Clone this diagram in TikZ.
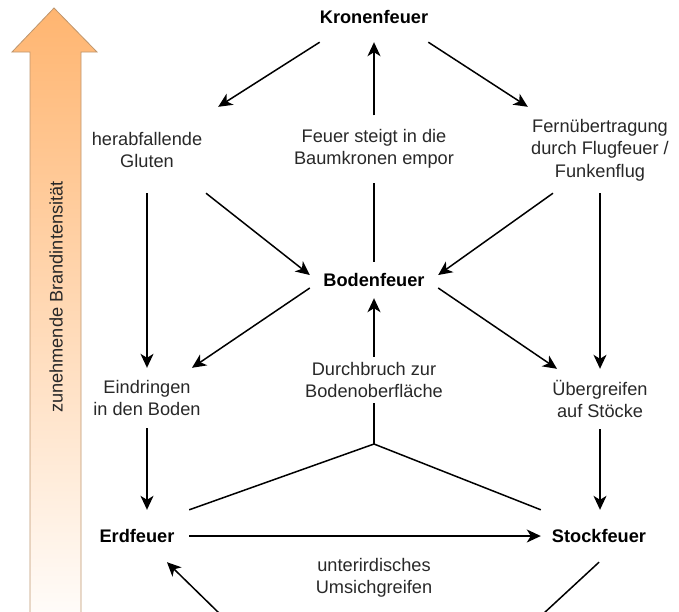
\documentclass[tikz,border=0pt]{standalone}
\usepackage{fontspec}
\setmainfont{Liberation Sans}
\usetikzlibrary{arrows.meta}
\definecolor{lbl}{RGB}{40,40,40}
\definecolor{glow}{RGB}{255,181,112}
\definecolor{glowline}{RGB}{190,150,110}

\begin{document}
\begin{tikzpicture}[x=1pt,y=-1pt,
        font=\fontsize{18.2}{22.5}\selectfont,
        stage/.style={inner sep=0pt,font=\fontsize{18.2}{22.5}\selectfont\bfseries,text=black},
        process/.style={inner sep=0pt,align=center,text=lbl},
        edge/.style={-{Stealth[length=14pt,width=13pt,inset=4pt]},line width=1.5pt},
        link/.style={line width=1.5pt}
    ]
        \useasboundingbox (0,0) rectangle (679,611);
        \clip (0,0) rectangle (679,611);

        % Draw the intensity arrow
        \draw[glowline,line width=0.8pt,top color=glow,bottom color=glow!4!white]
            (30,614) -- (30,52) -- (12,52) -- (54,8) -- (97,52) -- (81,52) -- (81,614) -- cycle;
        \node[process,rotate=90] (intens) at (56,297) {zunehmende Brandintensität};

        % Define the nodes
        \node[stage,minimum width=86pt,minimum height=50pt] (kronen) at (374,17) {Kronenfeuer};
        \node[process,minimum width=142pt,minimum height=86pt] (herab) at (147,150) {herabfallende\\Gluten};
        \node[process,minimum height=67pt] (steigt) at (374,149) {Feuer steigt in die\\Baumkronen empor};
        \node[process,minimum width=144pt,minimum height=86pt] (fern) at (600,150) {Fernübertragung\\durch Flugfeuer /\\Funkenflug};
        \node[stage,minimum width=128pt,minimum height=36pt] (boden) at (374,280) {Bodenfeuer};
        \node[process,minimum height=60pt] (eind) at (147,398) {Eindringen\\in den Boden};
        \node[process,minimum height=46pt] (durch) at (374,380) {Durchbruch zur\\Bodenoberfläche};
        \node[process,minimum height=60pt] (ueber) at (600,399) {Übergreifen\\auf Stöcke};
        \node[stage,minimum width=104pt,minimum height=52pt] (erd) at (137,536) {Erdfeuer};
        \node[stage,minimum width=116pt,minimum height=52pt] (stock) at (599,536) {Stockfeuer};
        \node[process] (unter) at (374,578) {unterirdisches\\Umsichgreifen};
        \coordinate (junc) at (374,444);
        \coordinate (dipR) at (543,614);
        \coordinate (dipL) at (220,614);

        % Draw the crown fire paths
        \draw[edge] (kronen.south west) -- (herab.north east);
        \draw[edge] (kronen.south east) -- (fern.north west);
        \draw[link] (boden.north) -- (steigt.south);
        \draw[edge] (steigt.north) -- (kronen.south);

        % Draw the paths down to the surface fire
        \draw[edge] ([xshift=59pt]herab.south) -- ([yshift=5pt]boden.west);
        \draw[edge] ([xshift=-47pt]fern.south) -- ([yshift=5pt]boden.east);
        \draw[edge] (herab.south) -- (eind.north);
        \draw[edge] (fern.south) -- (ueber.north);
        \draw[edge] ([yshift=-8pt]boden.west) -- ([xshift=45pt]eind.north);
        \draw[edge] ([yshift=-8pt]boden.east) -- ([xshift=-43pt]ueber.north);
        \draw[edge] (durch.north) -- (boden.south);

        % Draw the ground and stump fire paths
        \draw[edge] (eind.south) -- (eind.south |- erd.north);
        \draw[edge] (ueber.south) -- (ueber.south |- stock.north);
        \draw[edge] (erd.east) -- (stock.west);
        \draw[link] (erd.north east) -- (junc) -- (stock.north west);
        \draw[link] (junc) -- (durch.south);
        \draw[edge] (stock.south) -- (dipR) -- (dipL) -- ([xshift=30pt]erd.south);
    \end{tikzpicture}
\end{document}
